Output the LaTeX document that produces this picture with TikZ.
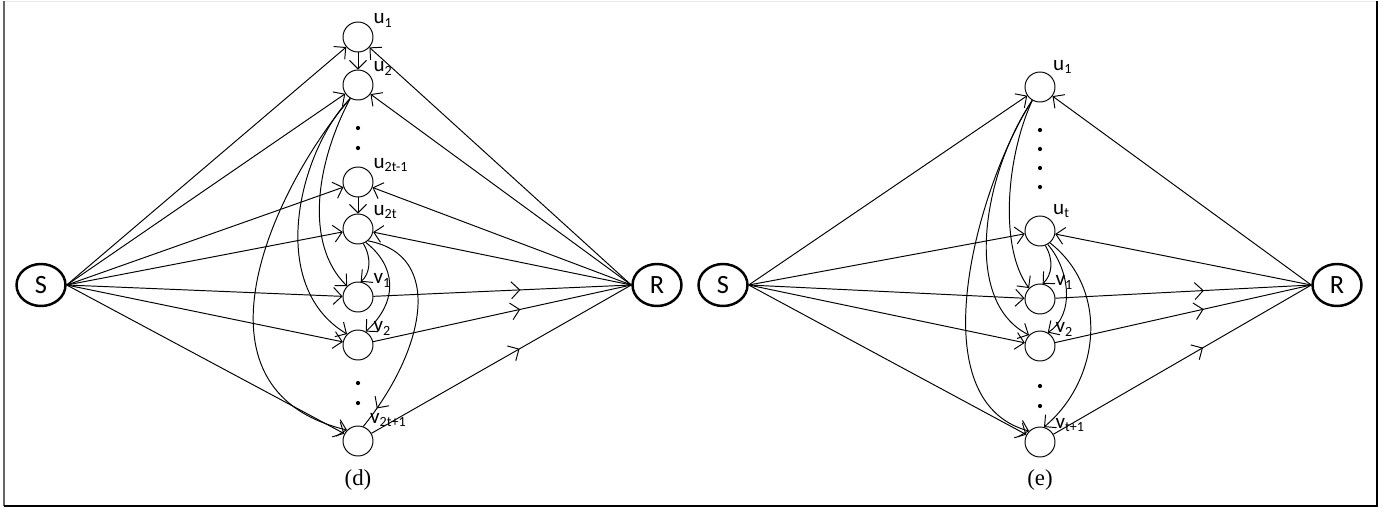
\documentclass[tikz,border=0pt]{standalone}
\usepackage{fontspec}
\setmainfont{Liberation Serif}
\setsansfont{Carlito}
\usetikzlibrary{arrows.meta,shapes.geometric,decorations.markings}

\begin{document}
\begin{tikzpicture}[x=0.02cm, y=-0.02cm, line width=0.55pt,
    >={Straight Barb[length=1.7mm,width=3.4mm]},
    small node/.style={circle,draw,minimum size=0.6cm,inner sep=0pt},
    end node/.style={ellipse,draw,line width=1.4pt,minimum width=0.98cm,minimum height=0.84cm,inner sep=0pt,font=\sffamily\fontsize{15}{18}\selectfont},
    every label/.style={font=\sffamily\fontsize{12}{14}\selectfont,inner sep=1pt},
    mid arrow/.style={postaction={decorate},decoration={markings,mark=at position #1 with {\arrow{>}}}},
    dotnode/.style={circle,fill=black,inner sep=0pt,minimum size=2.4pt} ]
    \useasboundingbox (0,0) rectangle (1387,511);
    % frame
    \draw [black!8] (4,1) -- (1377,1);
    \draw [gray!80!black,line width=1.6pt] (4,1) -- (4,506);
    \draw [line width=0.9pt] (4,506) -- (1377,506) -- (1377,1);

    % (d)
    \node at (41,285) [end node] (S1) {S};
    \node at (657,285) [end node] (R1) {R};
    \node at (358,37) [small node,label=30:u\textsubscript{1}] (U1) {};
    \node at (358,85) [small node,label=30:u\textsubscript{2}] (U2) {};
    \node at (358,182) [small node,label=30:u\textsubscript{2t-1}] (U3) {};
    \node at (358,229) [small node,label=30:u\textsubscript{2t}] (U4) {};
    \node at (358,297) [small node,label=30:v\textsubscript{1}] (V1) {};
    \node at (358,345) [small node,label=30:v\textsubscript{2}] (V2) {};
    \node at (358,441) [small node,label=50:v\textsubscript{2t+1}] (V3) {};
    \node at (358,128) [dotnode] (d1) {};
    \node at (358,148) [dotnode] (d2) {};
    \node at (358,383) [dotnode] (d3) {};
    \node at (358,403) [dotnode] (d4) {};
    \foreach \n in {U1,U2,U3,U4,V1,V2,V3}
      \draw [->] (S1.east) to (\n);
    \foreach \n in {U1,U2,U3,U4}
      \draw [->] (R1.west) to (\n);
    \foreach \n in {V1,V2,V3}
      \draw [mid arrow=0.57] (\n) to (R1.west);
    \draw [->] (U1) to (U2);
    \draw [->] (U3) to (U4);
    \draw [->] (U2.240) .. controls (315,165) and (305,245) .. (V1.135);
    \draw [->] (U2.240) .. controls (300,150) and (265,285) .. (V2.135);
    \draw [->] (U2.240) .. controls (272,190) and (180,390) .. (V3.135);
    \draw [->] (U4.290) .. controls (372,258) and (370,274) .. (V1.80);
    \draw [->] (U4.300) .. controls (395,265) and (400,300) .. (V2.60);
    \draw [mid arrow=0.9] (U4.310) .. controls (445,255) and (425,350) .. (V3.70);
    \node at (358,480) [font=\fontsize{13}{15}\selectfont] (cd) {(d)};

    % (e)
    \node at (723,285) [end node] (S2) {S};
    \node at (1337,285) [end node] (R2) {R};
    \node at (1040,87) [small node,label=45:u\textsubscript{1}] (W1) {};
    \node at (1040,231) [small node,label=45:u\textsubscript{t}] (W2) {};
    \node at (1040,299) [small node,label=30:v\textsubscript{1}] (X1) {};
    \node at (1040,346) [small node,label=30:v\textsubscript{2}] (X2) {};
    \node at (1040,442) [small node,label=30:v\textsubscript{t+1}] (X3) {};
    \foreach \y [count=\i] in {130,149,168,187,386,406}
      \node at (1040,\y) [dotnode] (e\i) {};
    \foreach \n in {W1,W2,X1,X2,X3}
      \draw [->] (S2.east) to (\n);
    \foreach \n in {W1,W2}
      \draw [->] (R2.west) to (\n);
    \foreach \n in {X1,X2,X3}
      \draw [mid arrow=0.58] (\n) to (R2.west);
    \draw [->] (W1.240) .. controls (1005,160) and (1000,250) .. (X1.135);
    \draw [->] (W1.240) .. controls (985,170) and (960,300) .. (X2.135);
    \draw [->] (W1.240) .. controls (980,180) and (915,400) .. (X3.135);
    \draw [->] (W2.290) .. controls (1054,260) and (1052,275) .. (X1.80);
    \draw [->] (W2.300) .. controls (1070,270) and (1075,315) .. (X2.60);
    \draw [->] (W2.310) .. controls (1110,290) and (1100,380) .. (X3.75);
    \node at (1040,480) [font=\fontsize{13}{15}\selectfont] (ce) {(e)};
\end{tikzpicture}
\end{document}
